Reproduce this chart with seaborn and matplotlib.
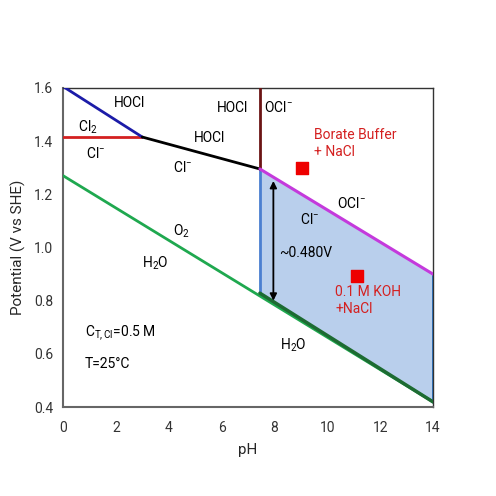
import numpy as np
import pandas as pd
import matplotlib
matplotlib.use("Agg")
import matplotlib.pyplot as plt
import seaborn as sns

# ====================== 数据 ======================
# Cl2 / Cl- 边界
ph_cl2_cl = [0, 3]
e_cl2_cl = [1.415, 1.415]
# HOCl / Cl2 边界
ph_hocl_cl2 = [0, 3]
e_hocl_cl2 = [1.605, 1.415]
# HOCl / Cl- 边界
ph_hocl_cl = [3, 7.45]
e_hocl_cl = [1.415, 1.295]
# HOCl / OCl- (pKa)
ph_pka = [7.45, 7.45]
e_pka = [1.295, 1.6]
# OCl- / Cl- 边界
ph_ocl_cl = [7.45, 14]
e_ocl_cl = [1.295, 0.900]
# O2 / H2O
ph_water = [0, 14]
e_water = [1.27, 0.42]
# 选择性窗口
ph_window = [7.45, 14]
e_window_top = [1.295, 0.900]
e_window_bot = [0.8285, 0.42]
# 标记点
ph_points = [9.03, 11.12]
e_points = [1.30, 0.893]
# ~0.480V 箭头
ph_arrow = 7.96
e_arrow = [0.800, 1.250]

sns.set_style("white")
plt.rcParams["font.family"] = ["Roboto", "DejaVu Sans"]
plt.rcParams["mathtext.fontset"] = "custom"
plt.rcParams["mathtext.rm"] = "Roboto"
plt.rcParams["mathtext.it"] = "Roboto"
plt.rcParams["mathtext.default"] = "rm"

fig = plt.figure(figsize=(4.96, 4.96), dpi=100)
ax = fig.add_axes([0.127, 0.179, 0.746, 0.644])


def draw(x, y, color, lw, z=3):
    # estimator=None: 垂直线不做聚合
    sns.lineplot(x=x, y=y, color=color, lw=lw, ax=ax, zorder=z,
                 estimator=None, sort=False)


# 窗口填充
ax.fill_between(ph_window, e_window_bot, e_window_top, color="#b9cfec", zorder=1)
draw([ph_window[0]] * 2, [e_window_bot[0], e_window_top[0]], "#4a7fd0", 2, 2)
draw([ph_window[1]] * 2, [e_window_bot[1], e_window_top[1]], "#1f70c8", 2, 2)

draw(ph_water, e_water, "#1fa84f", 2)
draw(ph_window, e_window_bot, "#1d6b32", 2.5, 4)
draw(ph_cl2_cl, e_cl2_cl, "#d42020", 2)
draw(ph_hocl_cl2, e_hocl_cl2, "#1c1ca8", 2)
draw(ph_hocl_cl, e_hocl_cl, "black", 2)
draw(ph_pka, e_pka, "#6b1414", 2)
draw(ph_ocl_cl, e_ocl_cl, "#c43adc", 2.2, 4)

ax.scatter(ph_points, e_points, marker="s", s=70, color="#ee0000", zorder=5)

ax.annotate("", xy=(ph_arrow, e_arrow[1]), xytext=(ph_arrow, e_arrow[0]),
            arrowprops=dict(arrowstyle="<|-|>", color="black", lw=1.3,
                            mutation_scale=10, shrinkA=0, shrinkB=0), zorder=5)

fs = 10
txt = dict(fontsize=fs, color="black", va="center")
ax.text(2.53, 1.544, "HOCl", ha="center", **txt)
ax.text(0.95, 1.453, "Cl$_2$", ha="center", **txt)
ax.text(1.25, 1.355, "Cl$^{-}$", ha="center", **txt)
ax.text(6.4, 1.525, "HOCl", ha="center", **txt)
ax.text(5.56, 1.41, "HOCl", ha="center", **txt)
ax.text(4.54, 1.300, "Cl$^{-}$", ha="center", **txt)
ax.text(8.15, 1.525, "OCl$^{-}$", ha="center", **txt)
ax.text(10.9, 1.164, "OCl$^{-}$", ha="center", **txt)
ax.text(9.35, 1.107, "Cl$^{-}$", ha="center", **txt)
ax.text(8.17, 0.979, "~0.480V", ha="left", **txt)
ax.text(4.5, 1.062, "O$_2$", ha="center", **txt)
ax.text(3.48, 0.942, "H$_2$O", ha="center", **txt)
ax.text(8.7, 0.633, "H$_2$O", ha="center", **txt)
ax.text(0.83, 0.678, "C$_{T,Cl}$=0.5 M", ha="left", **txt)
ax.text(0.83, 0.562, "T=25°C", ha="left", **txt)

red = dict(fontsize=fs, color="#d42020", ha="left", va="center", linespacing=1.3)
ax.text(9.5, 1.39, "Borate Buffer\n+ NaCl", **red)
ax.text(10.3, 0.80, "0.1 M KOH\n+NaCl", **red)

ax.set_xlim(0, 14)
ax.set_ylim(0.4, 1.6)
ax.set_xticks(np.arange(0, 15, 2))
ax.set_yticks(np.arange(0.4, 1.61, 0.2))
ax.set_yticklabels([f"{v:.1f}" for v in np.arange(0.4, 1.61, 0.2)])
ax.tick_params(direction="in", length=4, width=1, labelsize=10, colors="#333333")
ax.tick_params(axis="x", pad=10)
ax.tick_params(axis="y", pad=7)
ax.set_xlabel("pH", fontsize=11, labelpad=6)
ax.set_ylabel("Potential (V vs SHE)", fontsize=11, labelpad=6)
for side in ["left", "bottom"]:
    ax.spines[side].set_color("#666666")
    ax.spines[side].set_linewidth(1.5)
for side in ["top", "right"]:
    ax.spines[side].set_color("#333333")
    ax.spines[side].set_linewidth(1)

fig.savefig("out.png", dpi=100)
plt.close(fig)
